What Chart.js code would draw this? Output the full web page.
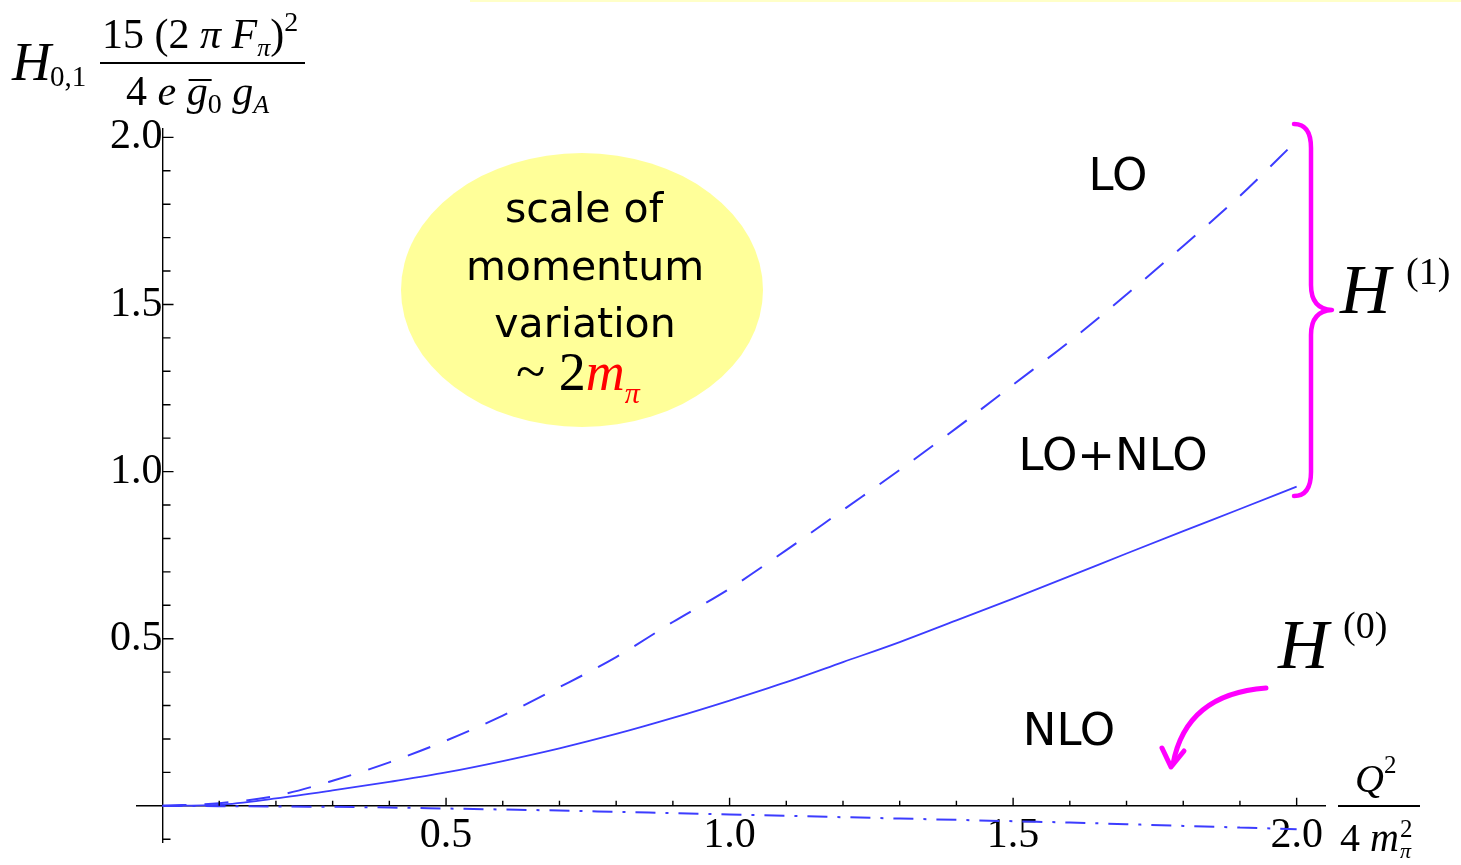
<!DOCTYPE html>
<html>
<head>
<meta charset="utf-8">
<script src="https://cdn.jsdelivr.net/npm/chart.js@4.4.1/dist/chart.umd.min.js"></script>
<style>
  html, body { margin: 0; padding: 0; background: #fff; }
  canvas { display: block; }
</style>
</head>
<body>
<canvas id="h_chart" width="1461" height="865"></canvas>
<script>
// values, Q^2/(4 m_pi^2) from 0 to 2
const xValues = [0, 0.1, 0.2, 0.3, 0.4, 0.5, 0.6, 0.7, 0.8, 0.9, 1.0,
                 1.1, 1.2, 1.3, 1.4, 1.5, 1.6, 1.7, 1.8, 1.9, 2.0];
const loValues = [0, 0.008, 0.03, 0.075, 0.13, 0.195, 0.27, 0.355, 0.445, 0.55, 0.65,
                  0.765, 0.885, 1.005, 1.13, 1.26, 1.39, 1.53, 1.675, 1.825, 1.99];
const loNloValues = [0, 0.003, 0.022, 0.046, 0.072, 0.10, 0.134, 0.172, 0.215, 0.263, 0.315,
                     0.37, 0.43, 0.49, 0.555, 0.62, 0.687, 0.755, 0.822, 0.888, 0.955];
const nloValues = [0, -0.001, -0.002, -0.003, -0.005, -0.008, -0.011, -0.014, -0.018, -0.022, -0.026,
                   -0.030, -0.034, -0.038, -0.042, -0.046, -0.050, -0.055, -0.060, -0.065, -0.070];

const xTickValues = [0.5, 1.0, 1.5, 2.0];
const xTickLabels = ['0.5', '1.0', '1.5', '2.0'];
const yTickValues = [0.5, 1.0, 1.5, 2.0];
const yTickLabels = ['0.5', '1.0', '1.5', '2.0'];

const lineBlue = '#3c3cff';
const magenta = '#ff00ff';
const serif = '"Liberation Serif", "Times New Roman", serif';
const hand = '"Comic Sans MS", "DejaVu Sans", sans-serif';

function toPoints(ys) {
    return xValues.map((x, i) => ({ x: x, y: ys[i] }));
}

function tickLabel(values, labels) {
    return function (value) {
        const i = values.findIndex(v => Math.abs(v - value) < 1e-6);
        return i >= 0 ? labels[i] : '';
    };
}

// draws a row of text pieces one after the other, returns end x
function drawRun(ctx, x, y, parts) {
    ctx.textBaseline = 'alphabetic';
    ctx.textAlign = 'left';
    parts.forEach(p => {
        ctx.font = p.f;
        ctx.fillStyle = p.c || '#000';
        ctx.fillText(p.t, x + (p.dx || 0), y + (p.dy || 0));
        x += ctx.measureText(p.t).width + (p.dx || 0);
    });
    return x;
}

const tickMarks = {
    id: 'tickMarks',
    afterDraw(chart) {
        const ctx = chart.ctx;
        const xs = chart.scales.x, ys = chart.scales.y;
        const x0 = xs.getPixelForValue(0), y0 = ys.getPixelForValue(0);
        ctx.save();
        ctx.strokeStyle = '#000';
        ctx.lineWidth = 1.4;
        ctx.beginPath();
        for (let i = 1; i <= 20; i++) {
            const px = xs.getPixelForValue(i / 10);
            const len = i % 5 === 0 ? 8 : 5;
            ctx.moveTo(px, y0);
            ctx.lineTo(px, y0 - len);
        }
        for (let i = -1; i <= 20; i++) {
            if (i === 0) continue;
            const py = ys.getPixelForValue(i / 10);
            const len = i % 5 === 0 ? 11 : 8;
            ctx.moveTo(x0, py);
            ctx.lineTo(x0 + len, py);
        }
        ctx.stroke();
        ctx.restore();
    }
};

const notes = {
    id: 'notes',
    beforeDatasetsDraw(chart) {
        const ctx = chart.ctx;
        ctx.save();
        // thin yellow strip at the top edge
        ctx.fillStyle = 'rgb(255,255,200)';
        ctx.fillRect(470, 0, 991, 2);
        // yellow bubble
        ctx.fillStyle = 'rgb(255,255,153)';
        ctx.beginPath();
        ctx.ellipse(582, 290, 181, 137, 0, 0, Math.PI * 2);
        ctx.fill();
        ctx.restore();
    },
    afterDraw(chart) {
        const ctx = chart.ctx;
        ctx.save();

        // bubble text
        ctx.fillStyle = '#000';
        ctx.textAlign = 'center';
        ctx.textBaseline = 'alphabetic';
        ctx.font = '41px ' + hand;
        ctx.fillText('scale of', 584, 222);
        ctx.fillText('momentum', 585, 280);
        ctx.fillText('variation', 585, 337);
        drawRun(ctx, 516, 390, [
            { t: '~ 2', f: '54px ' + serif },
            { t: 'm', f: 'italic 54px ' + serif, c: '#ff0000' },
            { t: 'π', f: 'italic 30px ' + serif, c: '#ff0000', dy: 13 }
        ]);

        // curve names
        ctx.textAlign = 'center';
        ctx.fillStyle = '#000';
        ctx.font = '45px ' + hand;
        ctx.fillText('LO', 1118, 190);
        ctx.fillText('LO+NLO', 1113, 470);
        ctx.fillText('NLO', 1069, 745);

        // y axis label: H_{0,1} 15 (2 pi F_pi)^2 / (4 e gbar_0 g_A)
        drawRun(ctx, 12, 80, [{ t: 'H', f: 'italic 54px ' + serif }]);
        drawRun(ctx, 50, 86, [{ t: '0,1', f: '29px ' + serif }]);
        drawRun(ctx, 102, 48, [
            { t: '15 (2 ', f: '42px ' + serif },
            { t: 'π', f: 'italic 42px ' + serif },
            { t: ' ', f: '42px ' + serif },
            { t: 'F', f: 'italic 42px ' + serif },
            { t: 'π', f: 'italic 26px ' + serif, dy: 8 },
            { t: ')', f: '42px ' + serif },
            { t: '2', f: '28px ' + serif, dy: -17 }
        ]);
        ctx.fillStyle = '#000';
        ctx.fillRect(100, 62, 205, 2);
        let gx = drawRun(ctx, 126, 105, [
            { t: '4 ', f: '42px ' + serif },
            { t: 'e', f: 'italic 42px ' + serif },
            { t: ' ', f: '42px ' + serif }
        ]);
        ctx.font = 'italic 42px ' + serif;
        const gw = ctx.measureText('g').width;
        ctx.fillStyle = '#000';
        ctx.fillRect(gx + 2, 79, gw + 2, 2);
        drawRun(ctx, gx, 105, [
            { t: 'g', f: 'italic 42px ' + serif },
            { t: '0', f: '28px ' + serif, dy: 8 },
            { t: ' ', f: '42px ' + serif },
            { t: 'g', f: 'italic 42px ' + serif },
            { t: 'A', f: 'italic 26px ' + serif, dy: 8 }
        ]);

        // x axis label: Q^2 / (4 m_pi^2)
        drawRun(ctx, 1355, 792, [
            { t: 'Q', f: 'italic 40px ' + serif },
            { t: '2', f: '25px ' + serif, dy: -19 }
        ]);
        ctx.fillStyle = '#000';
        ctx.fillRect(1338, 805, 82, 2);
        let mx = drawRun(ctx, 1340, 851, [
            { t: '4 ', f: '40px ' + serif },
            { t: 'm', f: 'italic 40px ' + serif }
        ]);
        drawRun(ctx, mx + 1, 837, [{ t: '2', f: '25px ' + serif }]);
        drawRun(ctx, mx + 1, 858, [{ t: 'π', f: 'italic 22px ' + serif }]);

        // brace for H(1)
        ctx.strokeStyle = magenta;
        ctx.lineWidth = 4.5;
        ctx.lineCap = 'round';
        ctx.lineJoin = 'round';
        ctx.beginPath();
        ctx.moveTo(1294, 124);
        ctx.quadraticCurveTo(1311, 124, 1311, 148);
        ctx.lineTo(1311, 285);
        ctx.quadraticCurveTo(1311, 309, 1332, 310);
        ctx.quadraticCurveTo(1311, 311, 1311, 335);
        ctx.lineTo(1311, 472);
        ctx.quadraticCurveTo(1311, 496, 1294, 496);
        ctx.stroke();

        drawRun(ctx, 1340, 313, [{ t: 'H', f: 'italic 70px ' + serif }]);
        drawRun(ctx, 1406, 284, [{ t: '(1)', f: '38px ' + serif }]);

        // H(0) with curved arrow
        drawRun(ctx, 1278, 668, [{ t: 'H', f: 'italic 70px ' + serif }]);
        drawRun(ctx, 1343, 638, [{ t: '(0)', f: '38px ' + serif }]);
        ctx.strokeStyle = magenta;
        ctx.lineWidth = 5;
        ctx.beginPath();
        ctx.moveTo(1266, 688);
        ctx.quadraticCurveTo(1186, 694, 1173, 764);
        ctx.stroke();
        ctx.beginPath();
        ctx.moveTo(1162, 748);
        ctx.lineTo(1171, 767);
        ctx.lineTo(1184, 751);
        ctx.stroke();

        ctx.restore();
    }
};

const h_chart = document.getElementById('h_chart');

const h_config = {
    type: 'line',
    data: {
        datasets: [{
            label: 'LO',
            data: toPoints(loValues),
            borderColor: lineBlue,
            borderWidth: 2,
            borderDash: [24, 18],
            pointRadius: 0,
            cubicInterpolationMode: 'monotone',
            fill: false
        }, {
            label: 'LO+NLO',
            data: toPoints(loNloValues),
            borderColor: lineBlue,
            borderWidth: 1.8,
            pointRadius: 0,
            cubicInterpolationMode: 'monotone',
            fill: false
        }, {
            label: 'NLO',
            data: toPoints(nloValues),
            borderColor: lineBlue,
            borderWidth: 2,
            borderDash: [20, 10, 3, 10],
            pointRadius: 0,
            cubicInterpolationMode: 'monotone',
            fill: false
        }]
    },
    options: {
        responsive: false,
        animation: false,
        devicePixelRatio: 1,
        layout: { padding: { left: 137, right: 136, top: 129, bottom: 22 } },
        plugins: {
            legend: { display: false },
            title: { display: false },
            tooltip: { enabled: false }
        },
        scales: {
            x: {
                type: 'linear',
                min: -0.045,
                max: 2.05,
                position: { y: 0 },
                afterBuildTicks: scale => { scale.ticks = xTickValues.map(v => ({ value: v })); },
                grid: { display: false, drawTicks: false },
                border: { display: true, color: '#000', width: 1.4 },
                ticks: {
                    callback: tickLabel(xTickValues, xTickLabels),
                    font: { family: serif, size: 42 },
                    color: '#000',
                    padding: 5,
                    autoSkip: false,
                    maxRotation: 0
                }
            },
            y: {
                type: 'linear',
                min: -0.11,
                max: 2.025,
                position: { x: 0 },
                afterBuildTicks: scale => { scale.ticks = yTickValues.map(v => ({ value: v })); },
                grid: { display: false, drawTicks: false },
                border: { display: true, color: '#000', width: 1.4 },
                ticks: {
                    callback: tickLabel(yTickValues, yTickLabels),
                    font: { family: serif, size: 42, lineHeight: 0.4 },
                    color: '#000',
                    padding: 14,
                    autoSkip: false
                }
            }
        }
    },
    plugins: [tickMarks, notes]
};

new Chart(h_chart, h_config);
</script>
</body>
</html>
